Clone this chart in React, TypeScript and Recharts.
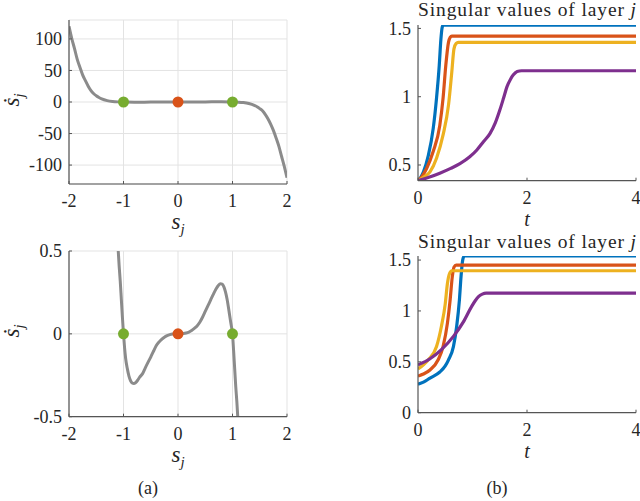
import React from 'react';
import { ComposedChart, LineChart, Line, Scatter, XAxis, YAxis, CartesianGrid } from 'recharts';

const FONT = 'Liberation Serif, DejaVu Serif, serif';
const INK = '#262626';
const AXIS = '#555555';
const GRID = '#e3e3e3';
const CURVE = '#8b8b8b';
const STABLE = '#77AC30';
const ORIGIN = '#D95319';
const BLUE = '#0072BD';
const RED = '#D95319';
const YELLOW = '#EDB120';
const PURPLE = '#7E2F8E';

// ---- (a) phase portrait, wide view ----
const sWide = [
  -2, -1.95, -1.9, -1.85, -1.8, -1.75, -1.7, -1.65, -1.6, -1.55, -1.5, -1.45, -1.4, -1.3, -1.2, -1.1, -1,
  -0.8, -0.5, 0, 0.5, 0.8,
  1, 1.1, 1.2, 1.3, 1.4, 1.45, 1.5, 1.55, 1.6, 1.65, 1.7, 1.75, 1.8, 1.85, 1.9, 1.95, 2,
];
const sDotWide = [
  120, 101, 85, 68, 55, 43, 34, 25.5, 18.5, 13.5, 10, 7.2, 5, 2.2, 0.8, 0.2, 0,
  -0.3, -0.14, 0, 0.14, 0.3,
  0, -0.2, -0.8, -2.3, -5.2, -7.5, -10.5, -14, -19.5, -26.5, -35, -45, -57, -70, -86, -102, -120,
];

// ---- (a) phase portrait, zoomed view ----
const sNear = [
  -1.12, -1.1, -1.08, -1.06, -1.04, -1.02, -1, -0.98, -0.96, -0.93, -0.9, -0.87, -0.84, -0.81, -0.78,
  -0.74, -0.7, -0.65, -0.6, -0.55, -0.5, -0.45, -0.4, -0.35, -0.3, -0.25, -0.2, -0.15, -0.1, -0.05, 0,
  0.05, 0.1, 0.15, 0.2, 0.25, 0.3, 0.35, 0.4, 0.45, 0.5, 0.55, 0.6, 0.65, 0.7, 0.74, 0.78, 0.81, 0.84,
  0.87, 0.9, 0.93, 0.96, 0.98, 1, 1.02, 1.04, 1.06, 1.08, 1.1, 1.12,
];
const sDotNear = [
  0.64, 0.52, 0.41, 0.32, 0.21, 0.1, 0, -0.085, -0.15, -0.21, -0.255, -0.283, -0.297, -0.3, -0.295,
  -0.28, -0.26, -0.24, -0.205, -0.172, -0.14, -0.105, -0.072, -0.05, -0.033, -0.02, -0.011, -0.005, -0.0015, -0.0002, 0,
  0.0002, 0.0015, 0.005, 0.011, 0.02, 0.033, 0.048, 0.07, 0.1, 0.135, 0.17, 0.205, 0.24, 0.272, 0.292, 0.302, 0.3, 0.285,
  0.255, 0.21, 0.15, 0.085, 0.045, 0, -0.1, -0.21, -0.32, -0.41, -0.52, -0.64,
];

const stableS = [-1, 1];
const stableDot = [0, 0];
const originS = [0];
const originDot = [0];

const sTicks = [-2, -1, 0, 1, 2];
const wideTicks = [-100, -50, 0, 50, 100];
const nearTicks = [-0.5, 0, 0.5];

// ---- (b) singular values, first run ----
const tBlue1 = [0, 0.05, 0.1, 0.19, 0.28, 0.34, 0.39, 0.42, 0.44, 0.46, 4];
const vBlue1 = [0.385, 0.41, 0.45, 0.57, 0.77, 0.99, 1.23, 1.42, 1.5, 1.524, 1.524];
const tRed1 = [0, 0.08, 0.16, 0.28, 0.4, 0.46, 0.51, 0.56, 0.59, 0.62, 4];
const vRed1 = [0.385, 0.42, 0.476, 0.6, 0.79, 0.99, 1.23, 1.4, 1.435, 1.444, 1.444];
const tYellow1 = [0, 0.1, 0.22, 0.34, 0.46, 0.56, 0.62, 0.66, 0.7, 0.74, 4];
const vYellow1 = [0.385, 0.41, 0.45, 0.55, 0.72, 0.94, 1.18, 1.35, 1.39, 1.398, 1.398];
const tPurple1 = [0, 0.2, 0.4, 0.6, 0.77, 0.95, 1.08, 1.2, 1.32, 1.42, 1.5, 1.57, 1.63, 1.7, 1.75, 1.82, 1.9, 4];
const vPurple1 = [0.385, 0.41, 0.44, 0.475, 0.51, 0.56, 0.61, 0.67, 0.73, 0.81, 0.9, 0.99, 1.07, 1.13, 1.16, 1.185, 1.19, 1.19];

// ---- (b) singular values, second run ----
const tBlue2 = [0, 0.1, 0.22, 0.4, 0.5, 0.56, 0.65, 0.71, 0.76, 0.79, 0.82, 0.85, 4];
const vBlue2 = [0.28, 0.3, 0.34, 0.4, 0.46, 0.52, 0.65, 0.85, 1.11, 1.34, 1.5, 1.54, 1.54];
const tRed2 = [0, 0.1, 0.22, 0.37, 0.46, 0.54, 0.59, 0.63, 0.66, 0.7, 4];
const vRed2 = [0.36, 0.38, 0.42, 0.52, 0.65, 0.88, 1.11, 1.34, 1.43, 1.45, 1.45];
const tYellow2 = [0, 0.1, 0.19, 0.34, 0.43, 0.5, 0.54, 0.58, 0.62, 4];
const vYellow2 = [0.43, 0.47, 0.52, 0.65, 0.85, 1.07, 1.27, 1.37, 1.395, 1.395];
const tPurple2 = [0, 0.22, 0.43, 0.65, 0.83, 0.98, 1.05, 1.11, 1.18, 1.25, 4];
const vPurple2 = [0.47, 0.53, 0.62, 0.75, 0.89, 1.04, 1.1, 1.14, 1.165, 1.175, 1.175];

const tTicks = [0, 2, 4];
const svTicks1 = [0.5, 1, 1.5];
const svTicks2 = [0, 0.5, 1, 1.5];

const TITLE = 'Singular values of layer ';

const rowsS = (xs: number[], ys: number[]) => xs.map((s, i) => ({ s, v: ys[i] }));
const rowsT = (xs: number[], ys: number[]) => xs.map((t, i) => ({ t, v: ys[i] }));

const TICK_GAP = 7;
const X_GAP = 8;
const TICK_FONT = 18;

const YTick = (props: any) => {
  const { x, y, payload } = props;
  const ax = x + TICK_GAP;
  return (
    <g>
      <line x1={ax} x2={ax + 3} y1={y} y2={y} stroke={AXIS} strokeWidth={1} />
      <text x={x} y={y} dy="0.35em" textAnchor="end" style={{ fontFamily: FONT, fontSize: TICK_FONT }} fill={INK}>
        {String(payload.value)}
      </text>
    </g>
  );
};

const XTick = (props: any) => {
  const { x, y, payload } = props;
  const ay = y - X_GAP;
  return (
    <g>
      <line x1={x} x2={x} y1={ay} y2={ay - 3} stroke={AXIS} strokeWidth={1} />
      <text x={x} y={ay + 23} textAnchor="middle" style={{ fontFamily: FONT, fontSize: TICK_FONT }} fill={INK}>
        {String(payload.value)}
      </text>
    </g>
  );
};

const Dot = (color: string) => (p: any) => <circle cx={p.cx} cy={p.cy} r={5.5} fill={color} />;

const axisLine = { stroke: AXIS, strokeWidth: 1.2 };

type PhaseProps = {
  top: number;
  height: number;
  marginTop: number;
  marginBottom: number;
  curve: { s: number; v: number }[];
  domain: [number, number];
  ticks: number[];
};

const PhasePlot = ({ top, height, marginTop, marginBottom, curve, domain, ticks }: PhaseProps) => (
  <div style={{ position: 'absolute', left: 0, top, width: 320, height }}>
    <ComposedChart width={320} height={height} margin={{ top: marginTop, right: 33, bottom: marginBottom, left: 0 }}>
      <CartesianGrid stroke={GRID} strokeWidth={1} />
      <XAxis
        type="number"
        dataKey="s"
        domain={[-2, 2]}
        ticks={sTicks}
        allowDataOverflow
        height={30}
        tickSize={0}
        tickMargin={X_GAP}
        tickLine={false}
        axisLine={axisLine}
        tick={<XTick />}
      />
      <YAxis
        type="number"
        dataKey="v"
        domain={domain}
        ticks={ticks}
        allowDataOverflow
        width={69}
        tickSize={0}
        tickMargin={TICK_GAP}
        tickLine={false}
        axisLine={axisLine}
        tick={<YTick />}
      />
      <Line
        data={curve}
        dataKey="v"
        type="monotone"
        stroke={CURVE}
        strokeWidth={3}
        dot={false}
        isAnimationActive={false}
      />
      <Scatter data={rowsS(stableS, stableDot)} dataKey="v" shape={Dot(STABLE)} isAnimationActive={false} />
      <Scatter data={rowsS(originS, originDot)} dataKey="v" shape={Dot(ORIGIN)} isAnimationActive={false} />
    </ComposedChart>
  </div>
);

type SvProps = {
  top: number;
  height: number;
  marginTop: number;
  marginBottom: number;
  domain: [number, number];
  ticks: number[];
  series: { data: { t: number; v: number }[]; color: string }[];
};

const SvPlot = ({ top, height, marginTop, marginBottom, domain, ticks, series }: SvProps) => (
  <div style={{ position: 'absolute', left: 320, top, width: 320, height }}>
    <LineChart width={320} height={height} margin={{ top: marginTop, right: 4, bottom: marginBottom, left: 0 }}>
      <XAxis
        type="number"
        dataKey="t"
        domain={[0, 4]}
        ticks={tTicks}
        allowDataOverflow
        height={30}
        tickSize={0}
        tickMargin={X_GAP}
        tickLine={false}
        axisLine={axisLine}
        tick={<XTick />}
      />
      <YAxis
        type="number"
        domain={domain}
        ticks={ticks}
        allowDataOverflow
        width={98}
        tickSize={0}
        tickMargin={TICK_GAP}
        tickLine={false}
        axisLine={axisLine}
        tick={<YTick />}
      />
      {series.map((sr, i) => (
        <Line
          key={i}
          data={sr.data}
          dataKey="v"
          type="monotone"
          stroke={sr.color}
          strokeWidth={3.2}
          dot={false}
          isAnimationActive={false}
        />
      ))}
    </LineChart>
  </div>
);

const SLabel = ({ x, y }: { x: number; y: number }) => (
  <text x={x} y={y} textAnchor="middle" style={{ fontFamily: FONT }} fill={INK}>
    <tspan fontStyle="italic" fontSize={23}>s</tspan>
    <tspan fontStyle="italic" fontSize={15} dy={5}>j</tspan>
  </text>
);

const SDotLabel = ({ x, y }: { x: number; y: number }) => (
  <text transform={`translate(${x},${y}) rotate(-90)`} textAnchor="middle" style={{ fontFamily: FONT }} fill={INK}>
    <tspan fontStyle="italic" fontSize={23}>{'\u1E61'}</tspan>
    <tspan fontStyle="italic" fontSize={15} dy={5}>j</tspan>
  </text>
);

const Title = ({ y }: { y: number }) => (
  <text
    x={527}
    y={y}
    textAnchor="middle"
    textLength={218}
    lengthAdjust="spacing"
    style={{ fontFamily: FONT, fontSize: 19.5 }}
    fill={INK}
  >
    {TITLE}
    <tspan fontStyle="italic">j</tspan>
  </text>
);

export default function App() {
  const run1 = [
    { data: rowsT(tBlue1, vBlue1), color: BLUE },
    { data: rowsT(tRed1, vRed1), color: RED },
    { data: rowsT(tYellow1, vYellow1), color: YELLOW },
    { data: rowsT(tPurple1, vPurple1), color: PURPLE },
  ];
  const run2 = [
    { data: rowsT(tBlue2, vBlue2), color: BLUE },
    { data: rowsT(tRed2, vRed2), color: RED },
    { data: rowsT(tYellow2, vYellow2), color: YELLOW },
    { data: rowsT(tPurple2, vPurple2), color: PURPLE },
  ];
  return (
    <div style={{ position: 'absolute', left: 0, top: 0, width: 640, height: 501, background: '#fff', overflow: 'hidden' }}>
      <PhasePlot top={0} height={240} marginTop={20} marginBottom={26} curve={rowsS(sWide, sDotWide)} domain={[-130, 130]} ticks={wideTicks} />
      <PhasePlot top={230} height={260} marginTop={21} marginBottom={43.3} curve={rowsS(sNear, sDotNear)} domain={[-0.5, 0.5]} ticks={nearTicks} />
      <SvPlot top={0} height={240} marginTop={25} marginBottom={29.3} domain={[0.385, 1.525]} ticks={svTicks1} series={run1} />
      <SvPlot top={230} height={260} marginTop={26} marginBottom={47.3} domain={[0, 1.54]} ticks={svTicks2} series={run2} />
      <svg width={640} height={501} style={{ position: 'absolute', left: 0, top: 0, pointerEvents: 'none' }}>
        <Title y={16} />
        <Title y={248} />
        <SLabel x={178} y={229} />
        <SLabel x={178} y={462} />
        <text x={527} y={226} textAnchor="middle" style={{ fontFamily: FONT, fontStyle: 'italic', fontSize: 20 }} fill={INK}>t</text>
        <text x={527} y={458} textAnchor="middle" style={{ fontFamily: FONT, fontStyle: 'italic', fontSize: 20 }} fill={INK}>t</text>
        <SDotLabel x={19} y={100} />
        <SDotLabel x={19} y={331} />
        <text x={148} y={494} textAnchor="middle" style={{ fontFamily: FONT, fontSize: 18 }} fill={INK}>(a)</text>
        <text x={497} y={494} textAnchor="middle" style={{ fontFamily: FONT, fontSize: 18 }} fill={INK}>(b)</text>
      </svg>
    </div>
  );
}
